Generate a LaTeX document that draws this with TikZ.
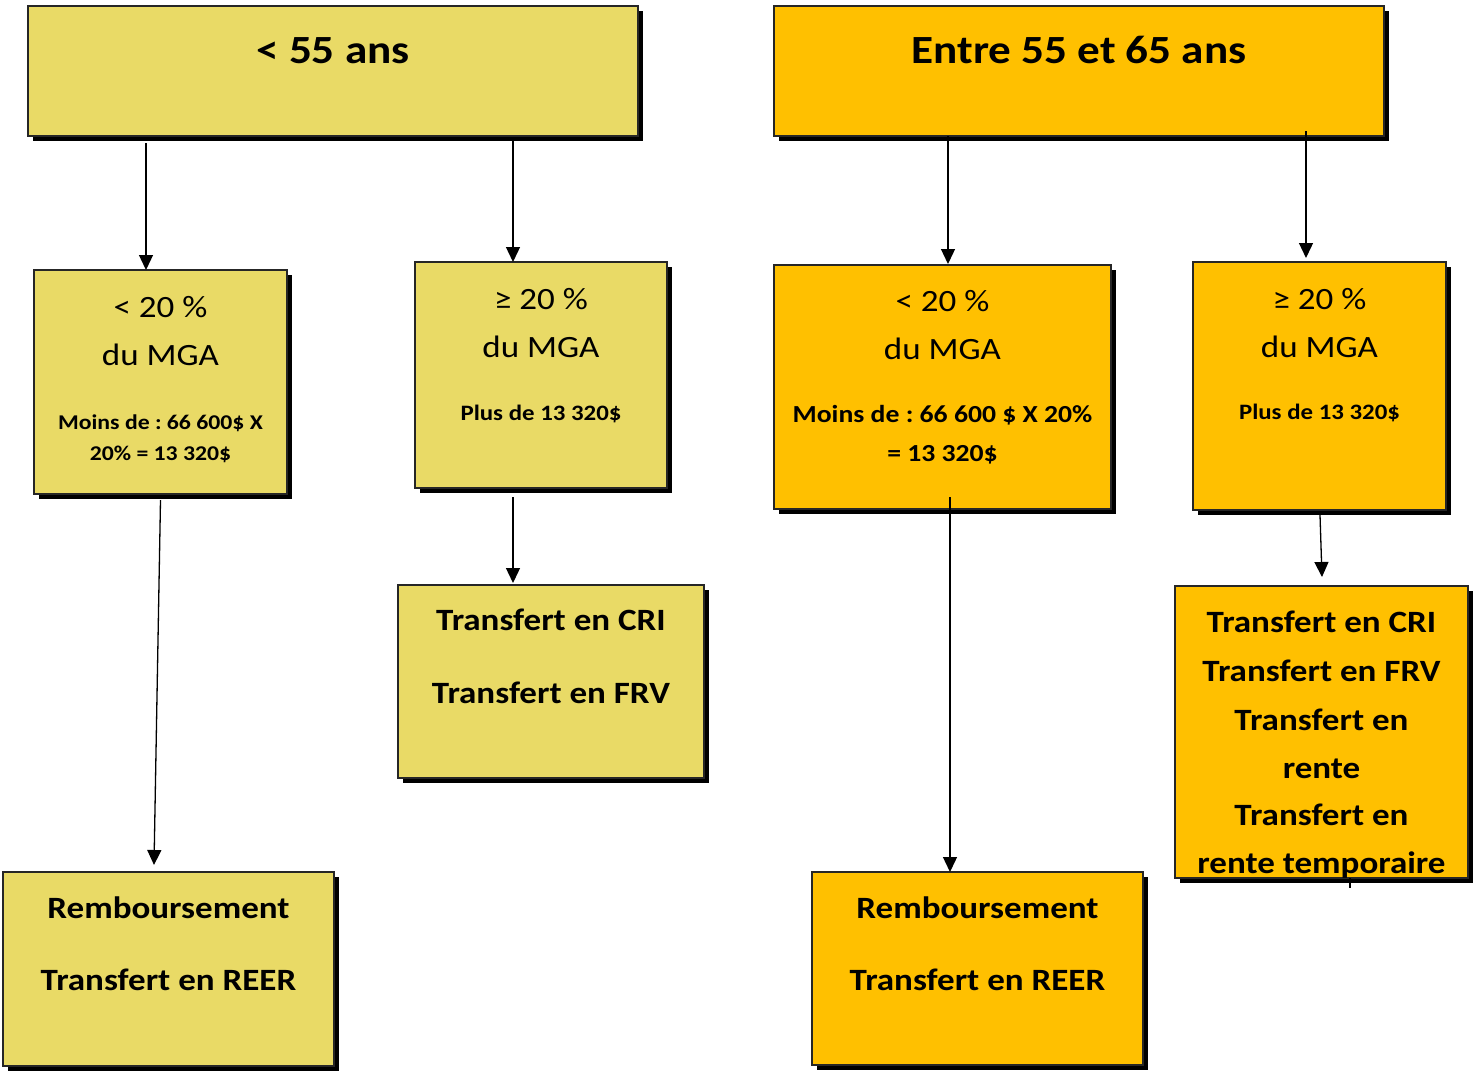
\documentclass[tikz,border=0pt]{standalone}
\usepackage{fontspec}
\setmainfont{Carlito}[FakeStretch=1.13]
\usetikzlibrary{arrows.meta,shadows}
\definecolor{yel}{HTML}{E9DA66}
\definecolor{org}{HTML}{FFC000}
\frenchspacing
\newcommand\ftitle{\fontsize{40}{48}\selectfont\bfseries}
\newcommand\fbig{\fontsize{31}{36}\selectfont}
\newcommand\fsmall{\fontsize{21}{25}\selectfont\bfseries}
\newcommand\fsmallb{\fontsize{22}{26}\selectfont\bfseries}
\newcommand\fsmallc{\fontsize{24.5}{29}\selectfont\bfseries}
\newcommand\fmid{\fontsize{31}{37}\selectfont\bfseries}
\begin{document}
\begin{tikzpicture}[x=1pt,y=-1pt,
  box/.style={draw=black!85,line width=1.2pt,inner sep=0pt,outer sep=0pt,
    drop shadow={shadow xshift=5pt,shadow yshift=-5pt,fill=black,opacity=1}},
  ybox/.style={box,fill=yel},
  obox/.style={box,fill=org},
  txt/.style={anchor=base,inner sep=0pt},
  arr/.style={line width=1.3pt,-{Triangle[width=14pt,length=15pt]}}]
\useasboundingbox (0,0) rectangle (1473,1072);
% boxes
\node[ybox,minimum width=610pt,minimum height=130pt] (tl) at (333,71) {};
\node[obox,minimum width=610pt,minimum height=130pt] (tr) at (1079,71) {};
\node[ybox,minimum width=253pt,minimum height=224pt] (l1) at (160.5,382) {};
\node[ybox,minimum width=252pt,minimum height=226pt] (l2) at (541,375) {};
\node[obox,minimum width=337pt,minimum height=244pt] (r1) at (942.5,387) {};
\node[obox,minimum width=253pt,minimum height=248pt] (r2) at (1319.5,386) {};
\node[ybox,minimum width=306pt,minimum height=193pt] (l2c) at (551,681.5) {};
\node[ybox,minimum width=331pt,minimum height=194pt] (l1c) at (168.5,969) {};
\node[obox,minimum width=331pt,minimum height=193pt] (r1c) at (977.5,968.5) {};
\node[obox,minimum width=293pt,minimum height=292pt] (r2c) at (1321.5,732) {};
% texts
\node[txt] (ttl) at (333,63) {\ftitle < 55 ans};
\node[txt] (ttr) at (1079,63) {\ftitle Entre 55 et 65 ans};
\node[txt] (l1a) at (160.5,317) {\fbig < 20 \%};
\node[txt] (l1b) at (160.5,365) {\fbig du MGA};
\node[txt] (l1c1) at (160.5,429) {\fsmall Moins de : 66 600\$ X};
\node[txt] (l1d) at (160.5,460) {\fsmall 20\% = 13 320\$};
\node[txt] (l2a) at (541,309) {\fbig ≥ 20 \%};
\node[txt] (l2b) at (541,357) {\fbig du MGA};
\node[txt] (l2d) at (541,420) {\fsmallb Plus de 13 320\$};
\node[txt] (r1a) at (942.5,311) {\fbig < 20 \%};
\node[txt] (r1b) at (942.5,359) {\fbig du MGA};
\node[txt] (r1d) at (942.5,422) {\fsmallc Moins de : 66 600 \$ X 20\%};
\node[txt] (r1e) at (942.5,461) {\fsmallc = 13 320\$};
\node[txt] (r2a) at (1319.5,309) {\fbig ≥ 20 \%};
\node[txt] (r2b) at (1319.5,357) {\fbig du MGA};
\node[txt] (r2d) at (1319.5,419) {\fsmallb Plus de 13 320\$};
\node[txt] (l2ca) at (551,630) {\fmid Transfert en CRI};
\node[txt] (l2cb) at (551,703) {\fmid Transfert en FRV};
\node[txt] (l1ca) at (168.5,918) {\fmid Remboursement};
\node[txt] (l1cb) at (168.5,990) {\fmid Transfert en REER};
\node[txt] (r1ca) at (977.5,918) {\fmid Remboursement};
\node[txt] (r1cb) at (977.5,990) {\fmid Transfert en REER};
\node[txt] (r2c1) at (1321.5,632) {\fmid Transfert en CRI};
\node[txt] (r2c2) at (1321.5,681) {\fmid Transfert en FRV};
\node[txt] (r2c3) at (1321.5,730) {\fmid Transfert en};
\node[txt] (r2c4) at (1321.5,778) {\fmid rente};
\node[txt] (r2c5) at (1321.5,825) {\fmid Transfert en};
\node[txt] (r2c6) at (1321.5,873) {\fmid rente temporaire};
% connectors
\draw[arr] ([xshift=-187pt,yshift=-7pt]tl.south) -- ([xshift=-14.5pt]l1.north);
\draw[arr] ([xshift=180pt,yshift=-5pt]tl.south) -- ([xshift=-28pt]l2.north);
\draw[arr] ([xshift=-131pt]tr.south) -- ([xshift=5.5pt,yshift=1pt]r1.north);
\draw[arr] ([xshift=227pt,yshift=5pt]tr.south) -- ([xshift=-13.5pt,yshift=4pt]r2.north);
\draw[arr] ([yshift=-6pt]l1.south) -- ([xshift=-14.5pt,yshift=7pt]l1c.north);
\draw[arr] ([xshift=-28pt,yshift=-9pt]l2.south) -- ([xshift=-38pt,yshift=2pt]l2c.north);
\draw[arr] ([xshift=7.5pt,yshift=12pt]r1.south) -- ([xshift=-27.5pt]r1c.north);
\draw[arr] ([xshift=0.5pt,yshift=-5pt]r2.south) -- ([xshift=0.5pt,yshift=9pt]r2c.north);
\draw[line width=1.3pt] ([xshift=28.5pt]r2c.south) -- ++(0,10) coordinate (stub);
\end{tikzpicture}
\end{document}
